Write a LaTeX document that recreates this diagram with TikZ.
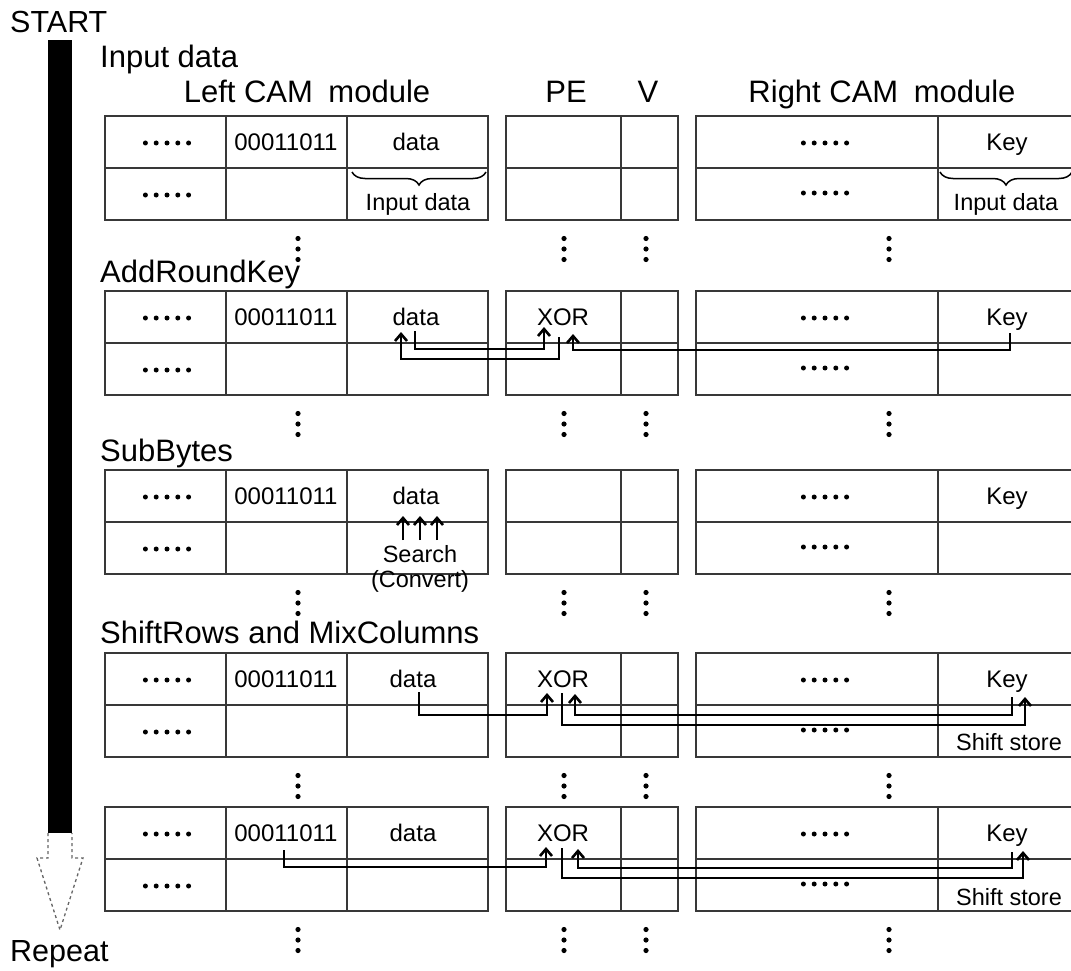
\documentclass[tikz,border=0pt]{standalone}
\usepackage{fontspec}
\setmainfont{Liberation Sans}
\usetikzlibrary{arrows.meta,decorations.pathreplacing}
\begin{document}
\begin{tikzpicture}[x=1pt,y=-1pt,
  grid/.style={line width=1.5pt, draw=black!78},
  conn/.style={line width=2.6pt, -{Straight Barb[length=7pt,width=12pt]}},
  bracestyle/.style={line width=1.5pt, decorate, decoration={brace, amplitude=13pt}},
  head/.style={anchor=base west, inner sep=0pt, font=\fontsize{31}{36}\selectfont},
  colhead/.style={anchor=base, inner sep=0pt, font=\fontsize{31}{36}\selectfont},
  cell/.style={anchor=base, inner sep=0pt, font=\fontsize{24}{28}\selectfont},
  note/.style={anchor=base, inner sep=0pt, font=\fontsize{23.5}{28}\selectfont},
  hdots/.pic={\foreach \i in {-2,...,2} \fill (\i*10.8,0) circle (2.5pt);},
  vdots/.pic={\foreach \i in {-1,0,1} \fill (0,\i*10.5) circle (2.6pt);},
]
\useasboundingbox (0,0) rectangle (1071,971);

% flow bar
\node[head, font=\fontsize{30.5}{34}\selectfont] (start) at (10,33) {START};
\node[head, font=\fontsize{30.5}{34}\selectfont] (repeat) at (10,961) {Repeat};
\fill (48,40) rectangle (72,833);
\draw[dashed, draw=black!60, line width=1.3pt] (48,833) -- (48,858) -- (37,858) -- (60,930) -- (83,858) -- (72,858) -- (72,833);

% headings
\node[head] (h1) at (100,68) {Input data};
\node[colhead] (lcam) at (307,103) {Left CAM\hspace{0.5em}module};
\node[colhead] (pe) at (566,103) {PE};
\node[colhead] (v) at (648,103) {V};
\node[colhead] (rcam) at (882,103) {Right CAM\hspace{0.5em}module};
\node[head] (h2) at (100,282) {AddRoundKey};
\node[head] (h3) at (100,461) {SubBytes};
\node[head] (h4) at (100,643) {ShiftRows and MixColumns};

% tables
\foreach \T in {116,291,470,653,807} {
  \draw[grid] (105,\T) rectangle (488,\T+104);
  \draw[grid] (105,\T+52) -- (488,\T+52);
  \draw[grid] (226,\T) -- (226,\T+104);
  \draw[grid] (347,\T) -- (347,\T+104);
  \draw[grid] (506,\T) rectangle (678,\T+104);
  \draw[grid] (506,\T+52) -- (678,\T+52);
  \draw[grid] (621,\T) -- (621,\T+104);
  \draw[grid] (1071,\T) -- (696,\T) -- (696,\T+104) -- (1071,\T+104);
  \draw[grid] (696,\T+52) -- (1071,\T+52);
  \draw[grid] (938,\T) -- (938,\T+104);
  \pic at (167,\T+27) {hdots};
  \pic at (167,\T+79) {hdots};
  \pic at (825,\T+27) {hdots};
  \pic at (825,\T+77) {hdots};
  \pic at (298,\T+133) {vdots};
  \pic at (564,\T+133) {vdots};
  \pic at (646,\T+133) {vdots};
  \pic at (889,\T+133) {vdots};
  \node[cell] (bin\T) at (286,\T+34.5) {00011011};
  \node[cell] (key\T) at (1007,\T+34.5) {Key};
}

% block 1
\node[cell] (data1) at (416,150.5) {data};
\draw[bracestyle] (486,172) -- (352,172);
\node[note] (in1) at (418,210) {Input data};
\draw[bracestyle] (1072,172) -- (940,172);
\node[note] (in2) at (1006,210) {Input data};

% block 2: AddRoundKey
\node[cell] (data2) at (416,325.5) {data};
\node[cell] (xor2) at (563,325.5) {XOR};
\coordinate (a2s) at (415,331); \coordinate (a2e) at (544,327);
\coordinate (b2s) at (559,337); \coordinate (b2e) at (401,332);
\coordinate (c2s) at (1010,333); \coordinate (c2e) at (573,334);
\draw[conn] (a2s) -- (415,349) -- (544,349) -- (a2e);
\draw[conn] (b2s) -- (559,359) -- (401,359) -- (b2e);
\draw[conn] (c2s) -- (1010,350) -- (573,350) -- (c2e);

% block 3: SubBytes
\node[cell] (data3) at (416,504.5) {data};
\foreach \x in {403,420,437} {
  \coordinate (s\x) at (\x,540); \coordinate (t\x) at (\x,516);
  \draw[conn] (s\x) -- (t\x);
}
\node[note] (search) at (420,562) {Search};
\node[note] (convert) at (420,587) {(Convert)};

% block 4: ShiftRows and MixColumns
\node[cell] (data4) at (413,687.5) {data};
\node[cell] (xor4) at (563,687.5) {XOR};
\coordinate (a4s) at (419,692); \coordinate (a4e) at (547,693);
\coordinate (b4s) at (562,693); \coordinate (b4e) at (1025,697);
\coordinate (c4s) at (1012,697); \coordinate (c4e) at (575,694);
\draw[conn] (a4s) -- (419,715) -- (547,715) -- (a4e);
\draw[conn] (b4s) -- (562,725) -- (1025,725) -- (b4e);
\draw[conn] (c4s) -- (1012,715) -- (575,715) -- (c4e);
\node[note] (ss4) at (1009,750) {Shift store};

% block 5
\node[cell] (data5) at (413,841.5) {data};
\node[cell] (xor5) at (563,841.5) {XOR};
\coordinate (a5s) at (284,850); \coordinate (a5e) at (546,847);
\coordinate (b5s) at (562,848); \coordinate (b5e) at (1023,851);
\coordinate (c5s) at (1012,852); \coordinate (c5e) at (578,849);
\draw[conn] (a5s) -- (284,867) -- (546,867) -- (a5e);
\draw[conn] (b5s) -- (562,878) -- (1023,878) -- (b5e);
\draw[conn] (c5s) -- (1012,868) -- (578,868) -- (c5e);
\node[note] (ss5) at (1009,905) {Shift store};
\end{tikzpicture}
\end{document}
